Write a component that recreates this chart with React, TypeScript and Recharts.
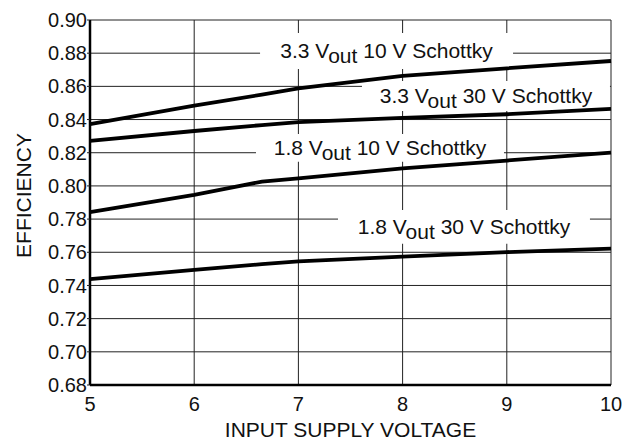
import React from 'react';
import {
  LineChart,
  Line,
  XAxis,
  YAxis,
  CartesianGrid,
  ReferenceArea,
  Label,
} from 'recharts';

// input supply voltage (V)
const voltages = [5, 6, 6.65, 7, 8, 9, 10];

// efficiency per curve
const eff33v10 = [0.8373, 0.8484, 0.855, 0.8588, 0.8663, 0.8709, 0.8753];
const eff33v30 = [0.8271, 0.8331, 0.8367, 0.8385, 0.841, 0.8432, 0.8464];
const eff18v10 = [0.7842, 0.7946, 0.8026, 0.8046, 0.8106, 0.8153, 0.8201];
const eff18v30 = [0.7438, 0.7494, 0.7528, 0.7545, 0.7574, 0.7601, 0.7622];

const xTicks = [5, 6, 7, 8, 9, 10];
const yTicks = [0.68, 0.7, 0.72, 0.74, 0.76, 0.78, 0.8, 0.82, 0.84, 0.86, 0.88, 0.9];

const data = voltages.map((v, i) => ({
  v,
  a: eff33v10[i],
  b: eff33v30[i],
  c: eff18v10[i],
  d: eff18v30[i],
}));

// white label boxes, in data units
const notes = [
  { lead: '3.3', rest: '10 V Schottky', x1: 6.632, x2: 9.06, y1: 0.8705, y2: 0.8922 },
  { lead: '3.3', rest: '30 V Schottky', x1: 7.61, x2: 9.99, y1: 0.8452, y2: 0.8633 },
  { lead: '1.8', rest: '10 V Schottky', x1: 6.593, x2: 8.973, y1: 0.8145, y2: 0.8313 },
  { lead: '1.8', rest: '30 V Schottky', x1: 7.38, x2: 9.798, y1: 0.7651, y2: 0.7855 },
];

const FONT = '"Liberation Sans", Arial, Helvetica, sans-serif';
const INK = '#111';

const BoxLabel = (props: any) => {
  const { viewBox, lead, rest } = props;
  if (!viewBox) return null;
  const cx = viewBox.x + viewBox.width / 2;
  const base = viewBox.y + viewBox.height / 2 + 7;
  return (
    <text x={cx} y={base} textAnchor="middle" fontSize={21} fontFamily={FONT} fill={INK}>
      <tspan>{lead + ' V'}</tspan>
      <tspan dy={5}>out</tspan>
      <tspan dy={-5}>{' ' + rest}</tspan>
    </text>
  );
};

export default function App() {
  return (
    <div style={{ position: 'absolute', left: 0, top: 0, background: '#fff' }}>
      <LineChart
        width={633}
        height={443}
        data={data}
        margin={{ top: 20, right: 22, left: 0, bottom: 28 }}
      >
        <CartesianGrid stroke="#222" strokeWidth={1} />
        <XAxis
          dataKey="v"
          type="number"
          domain={[5, 10]}
          ticks={xTicks}
          height={30}
          axisLine={{ stroke: '#000', strokeWidth: 2.5 }}
          tickLine={false}
          tickSize={10}
          tickMargin={2}
          tick={{ fontSize: 20, fill: INK, fontFamily: FONT }}
        >
          <Label
            content={(p: any) => {
              const vb = p.viewBox || {};
              return (
                <text
                  x={vb.x + vb.width / 2}
                  y={437}
                  textAnchor="middle"
                  fontSize={21}
                  fontFamily={FONT}
                  fill={INK}
                >
                  INPUT SUPPLY VOLTAGE
                </text>
              );
            }}
          />
        </XAxis>
        <YAxis
          type="number"
          domain={[0.68, 0.9]}
          ticks={yTicks}
          width={90}
          interval={0}
          tickFormatter={(v: number) => v.toFixed(2)}
          axisLine={{ stroke: '#000', strokeWidth: 2.5 }}
          tickLine={{ stroke: '#222' }}
          tickSize={3}
          tickMargin={0}
          tick={{ fontSize: 20, fill: INK, fontFamily: FONT }}
        >
          <Label
            content={(p: any) => {
              const vb = p.viewBox || {};
              const cy = vb.y + vb.height / 2 - 7;
              return (
                <text
                  x={31}
                  y={cy}
                  transform={`rotate(-90 31 ${cy})`}
                  textAnchor="middle"
                  fontSize={21}
                  fontFamily={FONT}
                  fill={INK}
                >
                  EFFICIENCY
                </text>
              );
            }}
          />
        </YAxis>
        {notes.map((n) => (
          <ReferenceArea
            key={n.lead + n.rest}
            x1={n.x1}
            x2={n.x2}
            y1={n.y1}
            y2={n.y2}
            fill="#fff"
            fillOpacity={1}
            stroke="none"
            ifOverflow="visible"
            label={<BoxLabel lead={n.lead} rest={n.rest} />}
          />
        ))}
        {['a', 'b', 'c', 'd'].map((k) => (
          <Line
            key={k}
            dataKey={k}
            type="linear"
            stroke="#000"
            strokeWidth={3.8}
            dot={false}
            activeDot={false}
            isAnimationActive={false}
          />
        ))}
      </LineChart>
    </div>
  );
}
